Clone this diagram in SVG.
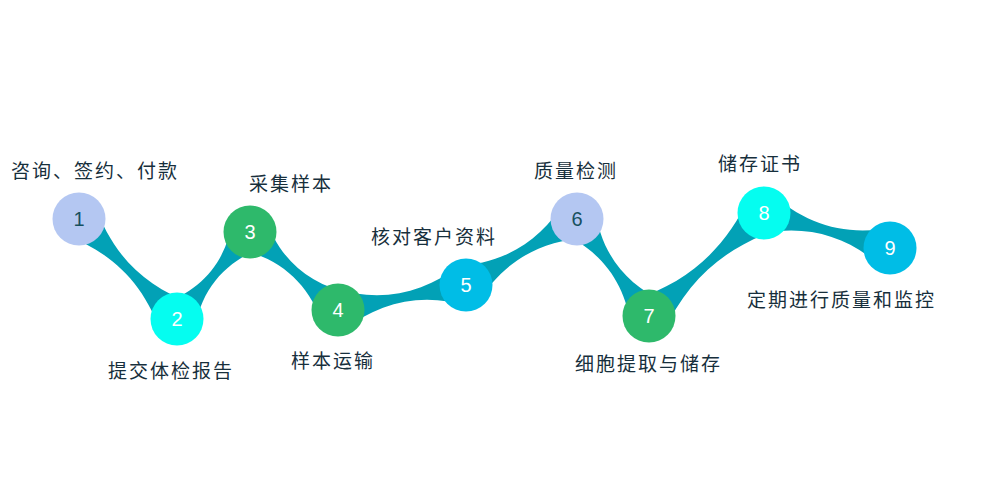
<svg xmlns="http://www.w3.org/2000/svg" xmlns:xlink="http://www.w3.org/1999/xlink" width="1000" height="500" viewBox="0 0 1000 500">
<defs>
<path id="link" d="M0,-22 C33.3,1 66.7,1 100,-22 L100,22 C66.7,-1 33.3,-1 0,22 Z"/>
<style>
.lk{fill:#02a1b6}
.c{stroke:none}
.lav{fill:#b4c7f2}
.cy{fill:#05fdf0}
.gr{fill:#2eb96b}
.bl{fill:#00bde6}
.num{font-family:"Liberation Sans",Arial,sans-serif;font-size:20px;text-anchor:middle;fill:#ffffff}
.dk{fill:#17505f}
.lbl{font-family:"Noto Sans CJK SC","Noto Sans CJK JP",sans-serif;font-size:19px;letter-spacing:2px;fill:#172f3c}
</style>
</defs>
<rect width="1000" height="500" fill="#ffffff"/>
<g id="connectors" class="lk">
<use xlink:href="#link" href="#link" transform="translate(79,219) rotate(45.58) scale(1.4001,1)"/>
<use xlink:href="#link" href="#link" transform="translate(177,319) rotate(-50.01) scale(1.1357,1)"/>
<use xlink:href="#link" href="#link" transform="translate(250,232) rotate(41.55) scale(1.1759,1)"/>
<use xlink:href="#link" href="#link" transform="translate(338,310) rotate(-11.05) scale(1.3042,1)"/>
<use xlink:href="#link" href="#link" transform="translate(466,285) rotate(-30.74) scale(1.2914,1)"/>
<use xlink:href="#link" href="#link" transform="translate(577,219) rotate(53.41) scale(1.2080,1)"/>
<use xlink:href="#link" href="#link" transform="translate(649,316) rotate(-41.85) scale(1.5438,1)"/>
<use xlink:href="#link" href="#link" transform="translate(764,213) rotate(15.52) scale(1.3077,1)"/>
</g>
<g id="node1"><circle class="c lav" cx="79" cy="219" r="26.5"/><text class="num dk" x="79" y="226">1</text><text class="lbl" x="11" y="178">咨询、签约、付款</text></g>
<g id="node2"><circle class="c cy" cx="177" cy="319" r="26.5"/><text class="num" x="177" y="326">2</text><text class="lbl" x="108" y="378">提交体检报告</text></g>
<g id="node3"><circle class="c gr" cx="250" cy="232" r="26.5"/><text class="num" x="250" y="239">3</text><text class="lbl" x="249" y="191">采集样本</text></g>
<g id="node4"><circle class="c gr" cx="338" cy="310" r="26.5"/><text class="num" x="338" y="317">4</text><text class="lbl" x="291" y="368">样本运输</text></g>
<g id="node5"><circle class="c bl" cx="466" cy="285" r="26.5"/><text class="num" x="466" y="292">5</text><text class="lbl" x="371" y="244">核对客户资料</text></g>
<g id="node6"><circle class="c lav" cx="577" cy="219" r="26.5"/><text class="num dk" x="577" y="226">6</text><text class="lbl" x="534" y="178">质量检测</text></g>
<g id="node7"><circle class="c gr" cx="649" cy="316" r="26.5"/><text class="num" x="649" y="323">7</text><text class="lbl" x="575" y="371">细胞提取与储存</text></g>
<g id="node8"><circle class="c cy" cx="764" cy="213" r="26.5"/><text class="num" x="764" y="220">8</text><text class="lbl" x="718" y="171">储存证书</text></g>
<g id="node9"><circle class="c bl" cx="890" cy="248" r="26.5"/><text class="num" x="890" y="255">9</text><text class="lbl" x="747" y="307">定期进行质量和监控</text></g>
</svg>
